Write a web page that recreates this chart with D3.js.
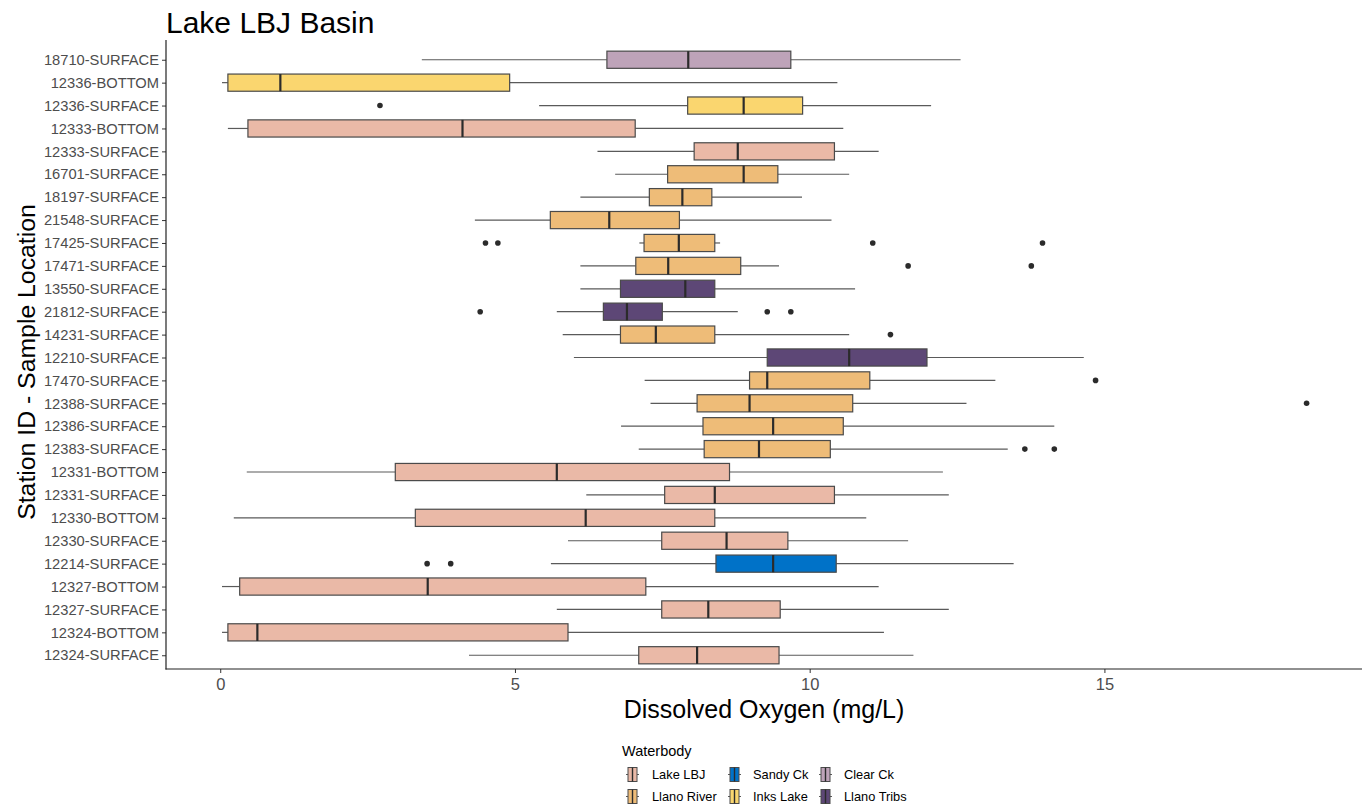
<!DOCTYPE html>
<html><head><meta charset="utf-8">
<script src="https://cdn.jsdelivr.net/npm/d3@7"></script>
<style>body{margin:0;background:#fff;font-family:"Liberation Sans",Arial,sans-serif;}</style>
</head><body><svg id="c" width="1366" height="806"></svg>
<script>
const stations = ["18710-SURFACE","12336-BOTTOM","12336-SURFACE","12333-BOTTOM","12333-SURFACE","16701-SURFACE","18197-SURFACE","21548-SURFACE","17425-SURFACE","17471-SURFACE","13550-SURFACE","21812-SURFACE","14231-SURFACE","12210-SURFACE","17470-SURFACE","12388-SURFACE","12386-SURFACE","12383-SURFACE","12331-BOTTOM","12331-SURFACE","12330-BOTTOM","12330-SURFACE","12214-SURFACE","12327-BOTTOM","12327-SURFACE","12324-BOTTOM","12324-SURFACE"];
const waterbody = ["Clear Ck","Inks Lake","Inks Lake","Lake LBJ","Lake LBJ","Llano River","Llano River","Llano River","Llano River","Llano River","Llano Tribs","Llano Tribs","Llano River","Llano Tribs","Llano River","Llano River","Llano River","Llano River","Lake LBJ","Lake LBJ","Lake LBJ","Lake LBJ","Sandy Ck","Lake LBJ","Lake LBJ","Lake LBJ","Lake LBJ"];
const whiskerLow = [3.42,0.03,5.41,0.13,6.40,6.70,6.11,4.32,7.11,6.11,6.11,5.71,5.81,6.00,7.20,7.30,6.80,7.10,0.45,6.21,0.23,5.90,5.61,0.03,5.71,0.03,4.22];
const q1 =         [6.56,0.13,7.93,0.47,8.04,7.59,7.28,5.60,7.19,7.05,6.79,6.50,6.79,9.28,8.98,8.09,8.19,8.21,2.97,7.54,3.31,7.49,8.41,0.33,7.49,0.13,7.10];
const median =     [7.94,1.02,8.88,4.11,8.78,8.88,7.84,6.60,7.78,7.60,7.89,6.90,7.39,10.67,9.28,8.98,9.38,9.14,5.71,8.39,6.20,8.59,9.38,3.52,8.28,0.63,8.09];
const q3 =         [9.68,4.91,9.88,7.04,10.42,9.46,8.34,7.79,8.39,8.83,8.39,7.50,8.39,11.99,11.02,10.73,10.57,10.35,8.64,10.42,8.39,9.63,10.45,7.22,9.50,5.90,9.48];
const whiskerHigh =[12.56,10.47,12.06,10.57,11.17,10.67,9.87,10.37,8.48,9.48,10.77,8.78,10.67,14.65,13.15,12.66,14.15,13.36,12.26,12.36,10.96,11.67,13.46,11.17,12.36,11.26,11.76];
const outliers = [[],[],[2.71],[],[],[],[],[],[4.50,4.71,11.07,13.95],[11.67,13.76],[],[4.41,9.28,9.68],[11.37],[],[14.85],[18.43],[],[13.65,14.15],[],[],[],[],[3.51,3.91],[],[],[],[]];
const legendOrder = ["Lake LBJ","Llano River","Sandy Ck","Inks Lake","Clear Ck","Llano Tribs"];
const legendColors = ["#EAB9A7","#EEBC78","#0072C8","#FAD66F","#BEA3B9","#5D4776"];
const xTicks = [0,5,10,15];

const svg = d3.select("#c");
const L = 166, R = 1362, T = 46, B = 669;
const x = d3.scaleLinear().domain([-0.92, 19.37]).range([L, R]);
const y = d3.scalePoint().domain(stations).range([T, B]).padding(0.6);
const color = d3.scaleOrdinal().domain(legendOrder).range(legendColors);
const bh = y.step() * 0.75;

const rows = stations.map((s, i) => ({s, wb: waterbody[i], lo: whiskerLow[i], q1: q1[i], med: median[i], q3: q3[i], hi: whiskerHigh[i], out: outliers[i]}));

const g = svg.append("g");
rows.forEach(r => {
  const cy = y(r.s);
  g.append("line").attr("x1", x(r.lo)).attr("x2", x(r.q1)).attr("y1", cy).attr("y2", cy).attr("stroke", "#5a5a5a").attr("stroke-width", 1.2);
  g.append("line").attr("x1", x(r.q3)).attr("x2", x(r.hi)).attr("y1", cy).attr("y2", cy).attr("stroke", "#5a5a5a").attr("stroke-width", 1.2);
  g.append("rect").attr("x", x(r.q1)).attr("y", cy - bh/2).attr("width", x(r.q3) - x(r.q1)).attr("height", bh)
    .attr("fill", color(r.wb)).attr("stroke", "#4a4a4a").attr("stroke-width", 1.2);
  g.append("line").attr("x1", x(r.med)).attr("x2", x(r.med)).attr("y1", cy - bh/2).attr("y2", cy + bh/2).attr("stroke", "#2b2b2b").attr("stroke-width", 2.2);
  r.out.forEach(o => g.append("circle").attr("cx", x(o)).attr("cy", cy).attr("r", 2.8).attr("fill", "#2b2b2b"));
});

// axes
const xa = svg.append("g").attr("transform", `translate(0,${B})`).call(d3.axisBottom(x).tickValues(xTicks).tickSize(4).tickPadding(5));
xa.select(".domain").remove();
xa.selectAll(".tick line").attr("stroke", "#333");
xa.selectAll(".tick text").attr("fill", "#4d4d4d").style("font-size", "16.5px").style("font-family", "Liberation Sans, Arial, sans-serif");
const ya = svg.append("g").attr("transform", `translate(${L},0)`).call(d3.axisLeft(y).tickSize(4).tickPadding(3));
ya.select(".domain").remove();
ya.selectAll(".tick line").attr("stroke", "#333");
ya.selectAll(".tick text").attr("fill", "#4d4d4d").style("font-size", "14.7px").style("font-family", "Liberation Sans, Arial, sans-serif");
svg.append("line").attr("x1", L).attr("x2", L).attr("y1", 40).attr("y2", B + 0.5).attr("stroke", "#222").attr("stroke-width", 1.2);
svg.append("line").attr("x1", L - 0.5).attr("x2", R).attr("y1", B).attr("y2", B).attr("stroke", "#222").attr("stroke-width", 1.2);

svg.append("text").attr("x", L).attr("y", 33).text("Lake LBJ Basin").style("font-size", "30px").attr("fill", "#000");
svg.append("text").attr("x", 764).attr("y", 718).attr("text-anchor", "middle").text("Dissolved Oxygen (mg/L)").style("font-size", "25px").attr("fill", "#000");
svg.append("text").attr("transform", `translate(35,${362}) rotate(-90)`).attr("text-anchor", "middle").text("Station ID - Sample Location").style("font-size", "24.8px").attr("fill", "#000");

// legend
const lg = svg.append("g");
lg.append("text").attr("x", 622).attr("y", 756).text("Waterbody").style("font-size", "14.5px").attr("fill", "#000");
const colX = [626, 728, 819];
const labX = [652, 753, 844];
legendOrder.forEach((k, i) => {
  const col = Math.floor(i / 2), row = i % 2;
  const kx = colX[col], ky = 774.5 + row * 22;
  const kg = lg.append("g");
  kg.append("line").attr("x1", kx).attr("x2", kx + 13).attr("y1", ky).attr("y2", ky).attr("stroke", "#5a5a5a");
  kg.append("rect").attr("x", kx + 2).attr("y", ky - 7).attr("width", 9).attr("height", 14).attr("fill", legendColors[i]).attr("stroke", "#4a4a4a").attr("stroke-width", 1);
  kg.append("line").attr("x1", kx + 6.5).attr("x2", kx + 6.5).attr("y1", ky - 7).attr("y2", ky + 7).attr("stroke", "#2b2b2b").attr("stroke-width", 1.4);
  lg.append("text").attr("x", labX[col]).attr("y", ky + 4.5).text(k).style("font-size", "12.8px").attr("fill", "#000");
});
</script></body></html>
